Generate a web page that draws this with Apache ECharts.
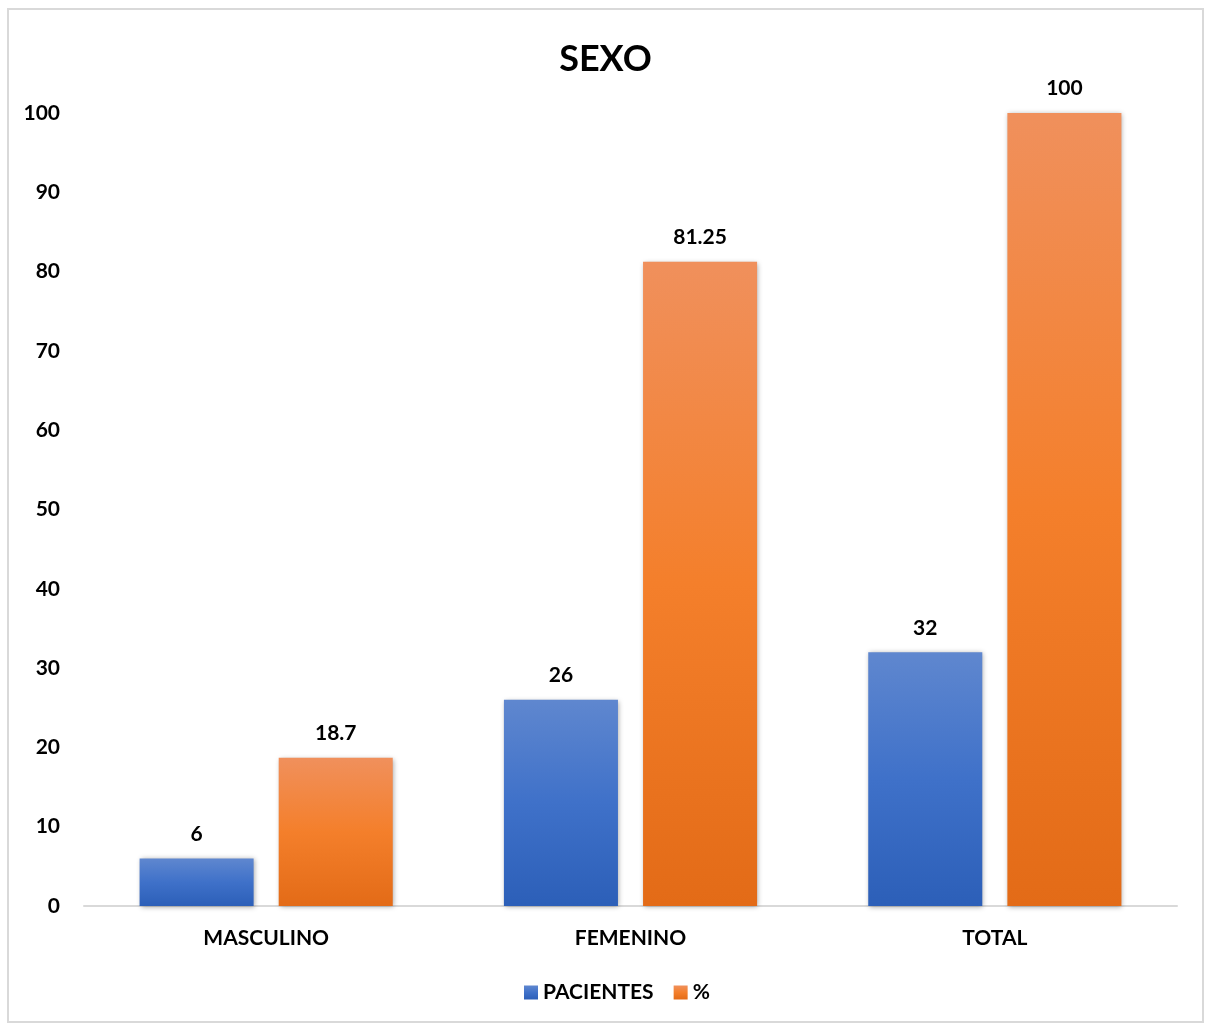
<!DOCTYPE html>
<html><head><meta charset="utf-8">
<script src="https://cdn.jsdelivr.net/npm/echarts@6/dist/echarts.min.js"></script>
<style>
html,body{margin:0;padding:0;background:#fff;}
#c{position:absolute;left:7px;top:8px;width:1197px;height:1015px;border:2px solid #d9d9d9;box-sizing:border-box;}
</style></head>
<body><div id="c"></div>
<script>
const categories = ['MASCULINO', 'FEMENINO', 'TOTAL'];
const pacientes = [6, 26, 32];
const porcentaje = [18.7, 81.25, 100];
const seriesNames = ['PACIENTES', '%'];
const yTicks = {min: 0, max: 100, interval: 10};

const FONT = 'Lato, "Open Sans", sans-serif';
const chart = echarts.init(document.getElementById('c'));
function grad(stops){
  return new echarts.graphic.LinearGradient(0,0,0,1,stops.map((c,i)=>({offset:i/(stops.length-1),color:c})));
}
const labelStyle = {show:true, position:'top', distance:14, color:'#000', fontFamily:FONT, fontWeight:'bold', fontSize:21};
chart.setOption({
  animation:false,
  title:{text:'SEXO', left:'center', top:26, textStyle:{fontFamily:FONT, fontWeight:'bold', fontSize:36, color:'#000'}},
  legend:{bottom:13, left:510, itemWidth:14, itemHeight:14, itemGap:20, icon:'rect',
    textStyle:{fontFamily:FONT, fontWeight:'bold', fontSize:21, color:'#000'}},
  grid:{left:75, right:25, top:103, bottom:115},
  xAxis:{type:'category', data:categories,
    axisLine:{lineStyle:{color:'#d9d9d9', width:2}}, axisTick:{show:false},
    axisLabel:{fontFamily:FONT, fontWeight:'bold', fontSize:21, color:'#000', margin:22}},
  yAxis:{type:'value', min:yTicks.min, max:yTicks.max, interval:yTicks.interval,
    splitLine:{show:false}, axisLine:{show:false}, axisTick:{show:false},
    axisLabel:{fontFamily:FONT, fontWeight:'bold', fontSize:21, color:'#000', margin:24}},
  series:[
    {name:seriesNames[0], type:'bar', data:pacientes, barWidth:'31.3%', barGap:'22%',
     itemStyle:{color:grad(['#5f87cf','#3f71c9','#2c5fb8']), shadowColor:'rgba(0,0,0,0.35)', shadowBlur:5, shadowOffsetX:1, shadowOffsetY:1},
     label:labelStyle},
    {name:seriesNames[1], type:'bar', data:porcentaje, barWidth:'31.3%',
     itemStyle:{color:grad(['#f0905c','#f47f2b','#e36b17']), shadowColor:'rgba(0,0,0,0.35)', shadowBlur:5, shadowOffsetX:1, shadowOffsetY:1},
     label:labelStyle}
  ]
});
</script></body></html>
